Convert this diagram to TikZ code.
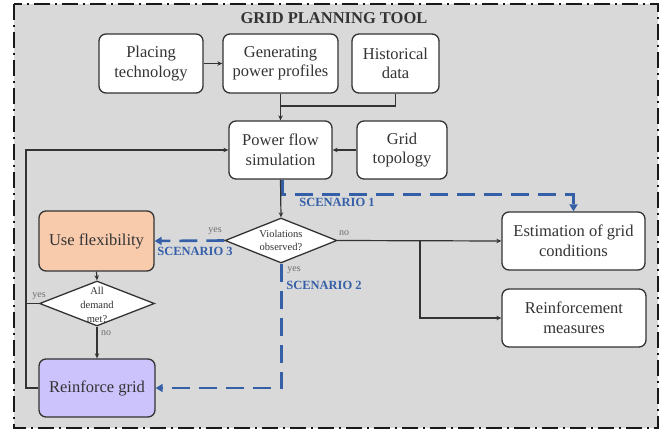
\documentclass[tikz,border=0pt]{standalone}
\usepackage{fontspec}
\setmainfont{Liberation Serif}
\usetikzlibrary{arrows.meta,shapes.geometric,calc}

\definecolor{panel}{HTML}{D9D9D9}
\definecolor{ink}{HTML}{333333}
\definecolor{scen}{HTML}{3560A8}
\definecolor{flexfill}{HTML}{F8CBAD}
\definecolor{reinffill}{HTML}{CCC3FC}
\definecolor{lbl}{HTML}{6E6E6E}

\begin{document}
\begin{tikzpicture}[x=1pt,y=-1pt,
  procbox/.style={draw=ink, line width=1.3pt, rounded corners=7pt, fill=white,
    align=center, text=ink, inner sep=0pt,
    font=\fontsize{16.5}{19.5}\selectfont},
  decision/.style={draw=ink, line width=1.3pt, diamond, fill=white, inner sep=0pt},
  dectext/.style={align=center, text=ink, inner sep=0pt,
    font=\fontsize{10.5}{13}\selectfont},
  conn/.style={draw=ink, line width=1.2pt},
  arr/.style={-{Stealth[length=5pt,width=4.5pt]}},
  scenline/.style={draw=scen, line width=2.6pt, dash pattern=on 18pt off 9pt,
    -{Triangle[length=7pt,width=8pt]}},
  scentext/.style={text=scen, font=\bfseries\fontsize{12.5}{14}\selectfont, inner sep=0pt},
  ynlabel/.style={text=lbl, font=\fontsize{10}{12}\selectfont, inner sep=0pt}
]
\useasboundingbox (0,0) rectangle (662,430);

% tool frame
\draw[fill=panel, draw=black!90, line width=2.4pt,
      dash pattern=on 16pt off 5pt on 2pt off 5pt] (14,4) rectangle (658,428);
\node[font=\bfseries\fontsize{16.5}{19}\selectfont, text=ink] (title) at (334,18) {GRID PLANNING TOOL};

% process boxes
\node[procbox, minimum width=104pt, minimum height=59pt] (place) at (151,63.5) {Placing\\technology};
\node[procbox, minimum width=115pt, minimum height=59pt] (gen) at (280.5,63.5) {Generating\\power profiles};
\node[procbox, minimum width=87pt, minimum height=59pt] (hist) at (395.5,63.5) {Historical\\data};
\node[procbox, minimum width=103pt, minimum height=58pt] (pfs) at (280.5,150) {Power flow\\simulation};
\node[procbox, minimum width=90pt, minimum height=58pt] (topo) at (402,150) {Grid\\topology};
\node[procbox, minimum width=143pt, minimum height=58pt] (est) at (573.5,241) {Estimation of grid\\conditions};
\node[procbox, minimum width=144pt, minimum height=58pt] (meas) at (574,318) {Reinforcement\\measures};
\node[procbox, fill=flexfill, minimum width=115pt, minimum height=60pt] (flex) at (96.5,241) {Use flexibility};
\node[procbox, fill=reinffill, minimum width=116pt, minimum height=58pt] (reinf) at (97,388) {Reinforce grid};

% decisions
\node[decision, minimum width=112pt, minimum height=45pt] (viol) at (281,240.5) {};
\node[dectext] (violtxt) at (viol.center) {Violations\\observed?};
\node[decision, minimum width=115pt, minimum height=45pt] (dem) at (97,303.5) {};
\node[dectext, font=\fontsize{10.5}{14}\selectfont] (demtxt) at ([yshift=-1pt]dem.center) {All\\demand\\met?};

% helper points
\coordinate (lx) at (26,0);
\coordinate (join) at (280.5,106);
\coordinate (split) at (420,240.5);

% scenario paths
\draw[scenline] ([xshift=2pt]pfs.south) |- ([yshift=17pt]est.north) -- (est.north);
\draw[scenline] (viol.west) -- (flex.east);
\draw[scenline] ([xshift=0.5pt]viol.south) |- (reinf.east);

% black connectors
\draw[conn, arr] (place) -- (gen);
\draw[conn, arr] (gen.south) -- (pfs.north);
\draw[conn] (hist.south) |- (join);
\draw[conn, arr] (topo) -- (pfs);
\draw[conn, arr] (pfs.south) -- (viol.north);
\draw[conn, arr] (viol.east) -- (est.west);
\draw[conn, arr] (split) |- (meas.west);
\draw[conn, arr] (reinf.west) -- (reinf.west -| lx) |- (pfs.west);
\draw[conn] (dem.west) -- (dem.west -| lx);
\draw[conn, arr] (flex.south) -- (dem.north);
\draw[conn, arr] (dem.south) -- (reinf.north);

% branch labels
\node[ynlabel] (yesl) at (215,231) {yes};
\node[ynlabel] (nor) at (344,233) {no};
\node[ynlabel] (yesd) at (294,270) {yes};
\node[ynlabel] (yesdem) at (39,296) {yes};
\node[ynlabel] (nodem) at (106,333) {no};

\node[scentext] (s1) at (337,202) {SCENARIO 1};
\node[scentext] (s2) at (324,285) {SCENARIO 2};
\node[scentext] (s3) at (195,251) {SCENARIO 3};
\end{tikzpicture}
\end{document}
